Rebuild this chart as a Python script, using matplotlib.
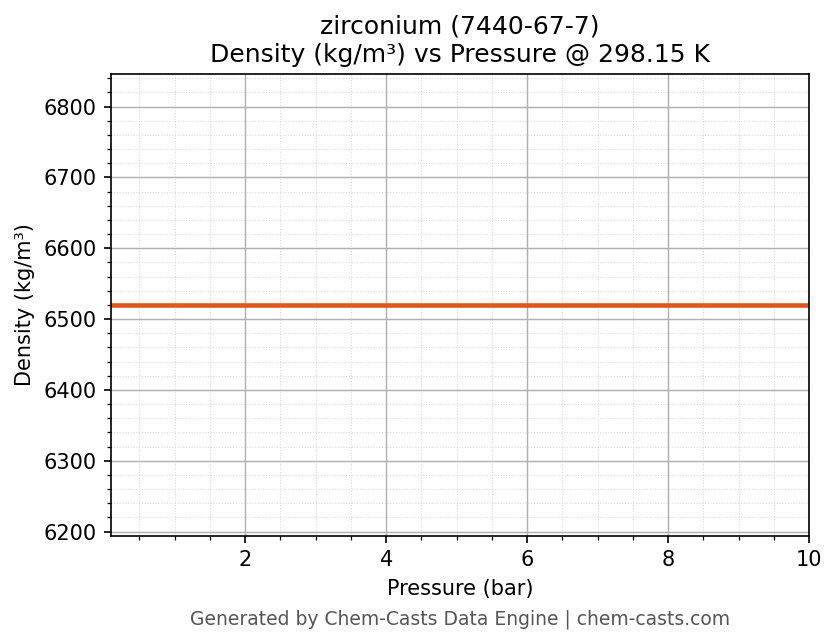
import matplotlib
matplotlib.use('Agg')
import matplotlib.pyplot as plt
from matplotlib.ticker import AutoMinorLocator
import numpy as np

# Данные
pressure = [0.1, 1.0, 2.0, 3.0, 4.0, 5.0, 6.0, 7.0, 8.0, 9.0, 10.0]
density = [6520, 6520, 6520, 6520, 6520, 6520, 6520, 6520, 6520, 6520, 6520]

fig, ax = plt.subplots(figsize=(8.36 / 1.5, 6.44 / 1.5), dpi=150)

ax.plot(pressure, density, color='#E05620', linewidth=2.2)

ax.set_xlim(min(pressure), max(pressure))
ax.set_ylim(min(density) * 0.95, max(density) * 1.05)

ax.xaxis.set_minor_locator(AutoMinorLocator(4))
ax.yaxis.set_minor_locator(AutoMinorLocator(5))
ax.grid(which='major', color='#b0b0b0', linewidth=0.7)
ax.grid(which='minor', color='#d8d8d8', linestyle=':', linewidth=0.5)

ax.set_xlabel('Pressure (bar)')
ax.set_ylabel('Density (kg/m³)')
ax.set_title('zirconium (7440-67-7)\nDensity (kg/m³) vs Pressure @ 298.15 K', fontsize=12)

fig.subplots_adjust(left=0.133, right=0.968, top=0.885, bottom=0.168)
fig.text(0.55, 0.038, 'Generated by Chem-Casts Data Engine | chem-casts.com',
         ha='center', va='center', fontsize=9, color='#555555')

fig.savefig('out.png', dpi=150, facecolor='white')
